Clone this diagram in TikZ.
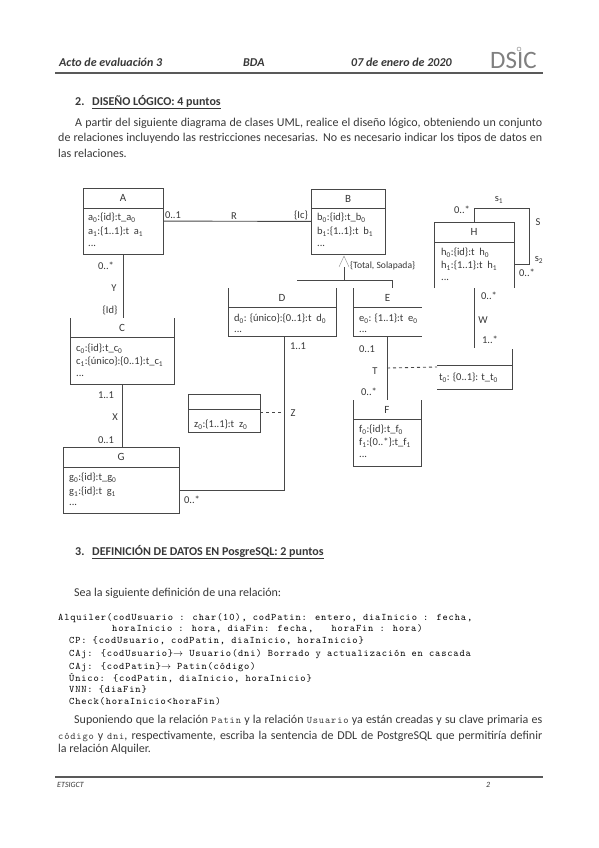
\documentclass[tikz,border=0pt]{standalone}
\usepackage{fontspec}
\setmainfont{Carlito}
\newfontfamily\sqlfont[LetterSpace=8.5]{Latin Modern Mono}
\usepackage{xcolor}
\usetikzlibrary{positioning}
\definecolor{tinta}{gray}{0.22}
\definecolor{linea}{gray}{0.28}
\tikzset{
  marco/.style={inner sep=0pt,outer sep=0pt,line width=0.9pt,draw=linea},
  abierto/.style={inner sep=0pt,outer sep=0pt},
  borde/.style={line width=0.9pt,draw=linea},
  titulo/.style={font=\fontsize{11}{13}\selectfont,text=tinta,inner sep=0pt},
  attr/.style={anchor=west,font=\fontsize{10.5}{12}\selectfont,text=tinta,inner sep=0pt},
  card/.style={font=\fontsize{10.5}{12}\selectfont,text=tinta,inner sep=0pt},
  texto/.style={anchor=west,font=\fontsize{12}{14}\selectfont,text=tinta,inner sep=0pt},
  apartado/.style={anchor=west,font=\fontsize{12}{14}\selectfont\bfseries,text=tinta,inner sep=0pt},
  sql/.style={anchor=west,font=\fontsize{10}{12}\selectfont\sqlfont,text=black,inner sep=0pt},
  cabecera/.style={anchor=base west,font=\fontsize{12}{14}\selectfont\itshape\bfseries,text=tinta,inner sep=0pt},
  pie/.style={anchor=west,font=\fontsize{8}{10}\selectfont\itshape,text=tinta,inner sep=0pt},
  regla/.style={line width=1.4pt,draw=black!65}
}
\newcommand{\idx}[1]{\textsubscript{#1}}
\newcommand{\mono}[1]{{\fontsize{10}{12}\selectfont\sqlfont #1}}
% nombre, estilo, x1, y1, x2, y2, ydiv, titulo
\newcommand{\clase}[8]{
  \node[#2,minimum width={(#5-#3)*1pt},minimum height={(#6-#4)*1pt}] (#1) at ({(#3+#5)/2},{(#4+#6)/2}) {};
  \draw[borde] (#3,#7) -- (#5,#7);
  \node[titulo] (#1T) at ({(#3+#5)/2},{(#4+#7)/2}) {#8};}

\begin{document}
\begin{tikzpicture}[x=1pt,y=-1pt]
\useasboundingbox (0,0) rectangle (599,848);
\fill[white] (0,0) rectangle (599,848);
% ---- CABECERA ----
\node[cabecera] (hActo) at (59,67) {Acto de evaluación 3};
\node[cabecera] (hBda) at (243,67) {BDA};
\node[cabecera] (hFecha) at (351,67) {07 de enero de 2020};
\node[anchor=west,inner sep=0pt,text=black!50,font=\fontsize{25}{25}\selectfont] (logo) at (490,60) {DSIC};
\draw[black!50,thin] (519,49) circle (2);
\draw[regla] (55,73) -- (543,73);
% ---- PARTE 2 ----
\node[apartado] (num2) at (75,102) {2.};
\node[apartado] (sec2) at (92,102) {\underline{DISEÑO LÓGICO: 4 puntos}};
\node[texto] (p1a) at (75,123) {\makebox[467pt][s]{A partir del siguiente diagrama de clases UML, realice el diseño lógico, obteniendo un conjunto}};
\node[texto] (p1b) at (58,138) {\makebox[484pt][s]{de relaciones incluyendo las restricciones necesarias. No es necesario indicar los tipos de datos en}};
\node[texto] (p1c) at (58,153) {las relaciones.};
% ---- CLASES ----
\clase{A}{marco}{83}{188}{163}{254}{208}{A}
\node[attr] (A0) at (88,218) {a\idx{0}:\{id\}:t\_a\idx{0}};
\node[attr] (A1) at (88,232) {a\idx{1}:\{1..1\}:t\ \ a\idx{1}};
\node[attr] (A2) at (88,246) {...};
\clase{B}{marco}{311}{189}{385}{254}{208}{B}
\node[attr] (B0) at (317,218) {b\idx{0}:\{id\}:t\_b\idx{0}};
\node[attr] (B1) at (317,232) {b\idx{1}:\{1..1\}:t\ \ b\idx{1}};
\node[attr] (B2) at (317,246) {...};
\clase{C}{abierto}{70}{318}{174}{384}{337}{C}
\draw[borde] (C.north west) -- (C.south west) -- (C.south east) -- (C.north east);
\node[attr] (C0) at (76,349) {c\idx{0}:\{id\}:t\_c\idx{0}};
\node[attr] (C1) at (76,362) {c\idx{1}:\{único\}:\{0..1\}:t\_c\idx{1}};
\node[attr] (C2) at (76,376) {...};
\clase{D}{abierto}{228}{288}{336}{336}{307}{D}
\draw[borde] (D.north west) -- (D.south west) -- (D.south east) -- (D.north east);
\node[attr] (D0) at (234,319) {d\idx{0}: \{único\}:\{0..1\}:t\ \ d\idx{0}};
\node[attr] (D1) at (234,332) {...};
\clase{E}{abierto}{353}{288}{422}{336}{307}{E}
\draw[borde] (E.north west) -- (E.south west) -- (E.south east);
\node[attr] (E0) at (359,319) {e\idx{0}: \{1..1\}:t\ \ e\idx{0}};
\node[attr] (E1) at (359,332) {...};
\clase{F}{abierto}{353}{400}{421}{466}{419}{F}
\draw[borde] (F.north west) -- (F.south west) -- (F.south east) -- (F.north east);
\node[attr] (F0) at (359,430) {f\idx{0}:\{id\}:t\_f\idx{0}};
\node[attr] (F1) at (359,443) {f\idx{1}:\{0..*\}:t\_f\idx{1}};
\node[attr] (F2) at (359,457) {...};
\clase{G}{marco}{63}{447}{179}{513}{467}{G}
\node[attr] (G0) at (69,478) {g\idx{0}:\{id\}:t\_g\idx{0}};
\node[attr] (G1) at (69,492) {g\idx{1}:\{id\}:t\ \ g\idx{1}};
\node[attr] (G2) at (69,505) {...};
\clase{H}{abierto}{434}{222}{514}{288}{242}{H}
\draw[borde] (H.south west) -- (H.north west) -- (H.north east) -- (H.south east);
\node[attr] (H0) at (441,253) {h\idx{0}:\{id\}:t\ \ h\idx{0}};
\node[attr] (H1) at (441,266) {h\idx{1}:\{1..1\}:t\ \ h\idx{1}};
\node[attr] (H2) at (441,280) {...};
\clase{Z}{marco}{188}{394}{260}{432}{409}{}
\node[attr] (Z0) at (194,425) {z\idx{0}:\{1..1\}:t\ \ z\idx{0}};
\clase{W}{abierto}{437}{349}{512}{389}{365}{}
\draw[borde] (W.north east) -- (W.south east) -- (W.south west);
\node[attr] (W0) at (439,378) {t\idx{0}: \{0..1\}: t\_t\idx{0}};
% ---- ASOCIACIONES ----
\draw[borde] (A) -- (B);
\node[card] (cR1) at (173,215) {0..1};
\node[card] (cR) at (234,216) {R};
\node[card] (cR2) at (301,215) {\{Ic\}};
\draw[borde] (A.south) -- (A.south |- C.north);
\node[card] (cY1) at (106,266) {0..*};
\node[card] (cY) at (114,288) {Y};
\node[card] (cY2) at (110,310) {\{Id\}};
\draw[borde] (C.south) -- (C.south |- G.north);
\node[card] (cX1) at (106,395) {1..1};
\node[card] (cX) at (115,417) {X};
\node[card] (cX2) at (106,440) {0..1};
\coordinate (codoZ) at (284,490);
\draw[borde] (D.south -| codoZ) -- (codoZ) -- (G.east |- codoZ);
\node[card] (cZ1) at (298,346) {1..1};
\node[card] (cZ2) at (192,500) {0..*};
\node[card] (cZ) at (293,413) {Z};
\draw[borde,dashed] (Z.east |- 0,412) -- (codoZ |- 0,412);
\draw[borde] (E.south -| 387,0) -- (F.north -| 387,0);
\node[card] (cT1) at (367,349) {0..1};
\node[card] (cT) at (375,371) {T};
\node[card] (cT2) at (369,392) {0..*};
\draw[borde,dashed] (387,368) -- (W.west |- 0,367);
% ---- GENERALIZACION ----
\coordinate (gen) at (344,256);
\coordinate (busL) at (297,280);
\coordinate (busR) at (392,280);
\draw[black!45,thin] (gen) ++(-5,11) -- (gen) -- ++(5,11);
\draw[borde] (gen) ++(0,11) -- (gen |- busL);
\draw[borde] (busL) -- (busR) -- (busR |- E.north);
\node[card,anchor=west,font=\fontsize{9.6}{12}\selectfont] (cGen) at (350,266) {\{Total, Solapada\}};
% ---- REFLEXIVA Y W ----
\coordinate (s1) at (474,208);
\coordinate (s2) at (529,264);
\draw[borde] (s1 |- H.north) -- (s1) -- (s1 -| s2) -- (s2) -- (H.east |- s2);
\node[card] (cS1) at (462,210) {0..*};
\node[card] (cSa) at (499,200) {s\idx{1}};
\node[card] (cS) at (538,222) {S};
\node[card] (cSb) at (539,260) {s\idx{2}};
\node[card] (cS2) at (527,273) {0..*};
\draw[borde] (H.south -| s1) -- (s1 |- 0,348);
\node[card] (cW1) at (489,296) {0..*};
\node[card] (cW) at (483,320) {W};
\node[card] (cW2) at (490,340) {1..*};
% ---- PARTE 3 ----
\node[apartado] (num3) at (75,552) {3.};
\node[apartado] (sec3) at (92,552) {\underline{DEFINICIÓN DE DATOS EN PosgreSQL: 2 puntos}};
\node[texto] (p2) at (74,593) {Sea la siguiente definición de una relación:};
\foreach \x/\y/\txt [count=\i] in {
  58/618/{Alquiler(codUsuario : char(10), codPatin: entero, diaInicio : fecha,},
  112/629/{horaInicio : hora, diaFin: fecha,\ \ \ horaFin : hora)},
  69/641/{CP: \{codUsuario, codPatin, diaInicio, horaInicio\}},
  69/654/{CAj: \{codUsuario\}$\rightarrow$ Usuario(dni) Borrado y actualización en cascada},
  69/667/{CAj: \{codPatin\}$\rightarrow$ Patin(código)},
  69/678/{Único: \{codPatin, diaInicio, horaInicio\}},
  69/689/{VNN: \{diaFin\}},
  69/701/{Check(horaInicio<horaFin)}}{
  \node[sql] (sql\i) at (\x,\y) {\txt};
}
\node[texto] (p3a) at (74,720) {\makebox[468pt][s]{Suponiendo que la relación \mono{Patin} y la relación \mono{Usuario} ya están creadas y su clave primaria es}};
\node[texto] (p3b) at (58,736) {\makebox[484pt][s]{\mono{código} y \mono{dni}, respectivamente, escriba la sentencia de DDL de PostgreSQL que permitiría definir}};
\node[texto] (p3c) at (58,749) {la relación Alquiler.};
% ---- PIE ----
\draw[regla] (55,777) -- (543,777);
\node[pie] (pieE) at (57,785) {ETSIGCT};
\node[pie] (pieN) at (486,785) {2};
\end{tikzpicture}
\end{document}
